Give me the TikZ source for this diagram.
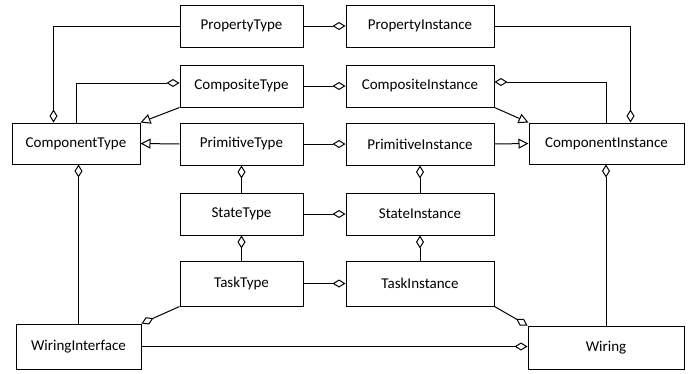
\documentclass[tikz,border=0pt]{standalone}
\usepackage{fontspec}
\setmainfont{Carlito}
\usetikzlibrary{arrows.meta,calc}
\tikzset{
  cls/.style={draw, line width=1pt, inner sep=0pt, font=\fontsize{15}{18}\selectfont},
  agg/.style={line width=1pt, -{Diamond[open, length=13pt, width=8pt, line width=1pt]}},
  gen/.style={line width=1pt, -{Triangle[open, length=10pt, width=10pt, line width=1pt]}},
}
\begin{document}
\begin{tikzpicture}[x=1pt, y=-1pt]
\useasboundingbox (0,0) rectangle (699,373);
% type column
\node[cls, minimum width=123pt, minimum height=42pt] (PropertyType)  at (241.5,26)  {PropertyType};
\node[cls, minimum width=123pt, minimum height=42pt] (CompositeType) at (241.5,86)  {CompositeType};
\node[cls, minimum width=123pt, minimum height=42pt] (PrimitiveType) at (241.5,144) {PrimitiveType};
\node[cls, minimum width=123pt, minimum height=42pt] (StateType)     at (241.5,214) {StateType};
\node[cls, minimum width=123pt, minimum height=45pt] (TaskType)      at (241.5,283.5) {TaskType};
% instance column
\node[cls, minimum width=148pt, minimum height=42pt] (PropertyInstance)  at (420,26)  {PropertyInstance};
\node[cls, minimum width=148pt, minimum height=42pt] (CompositeInstance) at (420,86)  {CompositeInstance};
\node[cls, minimum width=148pt, minimum height=42pt] (PrimitiveInstance) at (420,144) {PrimitiveInstance};
\node[cls, minimum width=148pt, minimum height=42pt] (StateInstance)     at (420,214) {StateInstance};
\node[cls, minimum width=148pt, minimum height=45pt] (TaskInstance)      at (420,283.5) {TaskInstance};
% outer classes
\node[cls, minimum width=128pt, minimum height=41pt] (ComponentType)     at (76,143.5)  {ComponentType};
\node[cls, minimum width=155pt, minimum height=41pt] (ComponentInstance) at (606.5,143.5) {ComponentInstance};
\node[cls, minimum width=125pt, minimum height=45pt] (WiringInterface)   at (78.5,346.5) {WiringInterface};
\node[cls, minimum width=156pt, minimum height=43pt] (Wiring)            at (606,347.5) {Wiring};

% type -> instance aggregations
\draw[agg] (PropertyType.east)  -- (PropertyInstance.west);
\draw[agg] (CompositeType.east) -- (CompositeInstance.west);
\draw[agg] (PrimitiveType.east) -- (PrimitiveInstance.west);
\draw[agg] (StateType.east)     -- (StateInstance.west);
\draw[agg] (TaskType.east)      -- (TaskInstance.west);

% vertical chains
\draw[agg] (StateType.north) -- (PrimitiveType.south);
\draw[agg] (TaskType.north)  -- (StateType.south);
\draw[agg] (StateInstance.north) -- (PrimitiveInstance.south);
\draw[agg] (TaskInstance.north)  -- (StateInstance.south);

% component type side
\draw[agg] (PropertyType.west) -| ([xshift=42pt]ComponentType.north west);
\draw[agg] (ComponentType.north) |- ([yshift=3pt]CompositeType.west);
\draw[gen] (CompositeType.south west) -- (ComponentType.north east);
\draw[gen] (PrimitiveType.west) -- (ComponentType.east);
\draw[agg] (WiringInterface.north) -- (WiringInterface.north |- ComponentType.south);
\draw[agg] (TaskType.south west) -- (WiringInterface.north east);

% component instance side
\draw[agg] (PropertyInstance.east) -| ([xshift=-54pt]ComponentInstance.north east);
\draw[agg] (ComponentInstance.north) |- ([yshift=4pt]CompositeInstance.east);
\draw[gen] (CompositeInstance.south east) -- (ComponentInstance.north west);
\draw[gen] (PrimitiveInstance.east) -- (ComponentInstance.west);
\draw[agg] (Wiring.north) -- (Wiring.north |- ComponentInstance.south);
\draw[agg] (TaskInstance.south east) -- (Wiring.north west);
\draw[agg] (WiringInterface.east) -- (WiringInterface.east -| Wiring.west);
\end{tikzpicture}
\end{document}
